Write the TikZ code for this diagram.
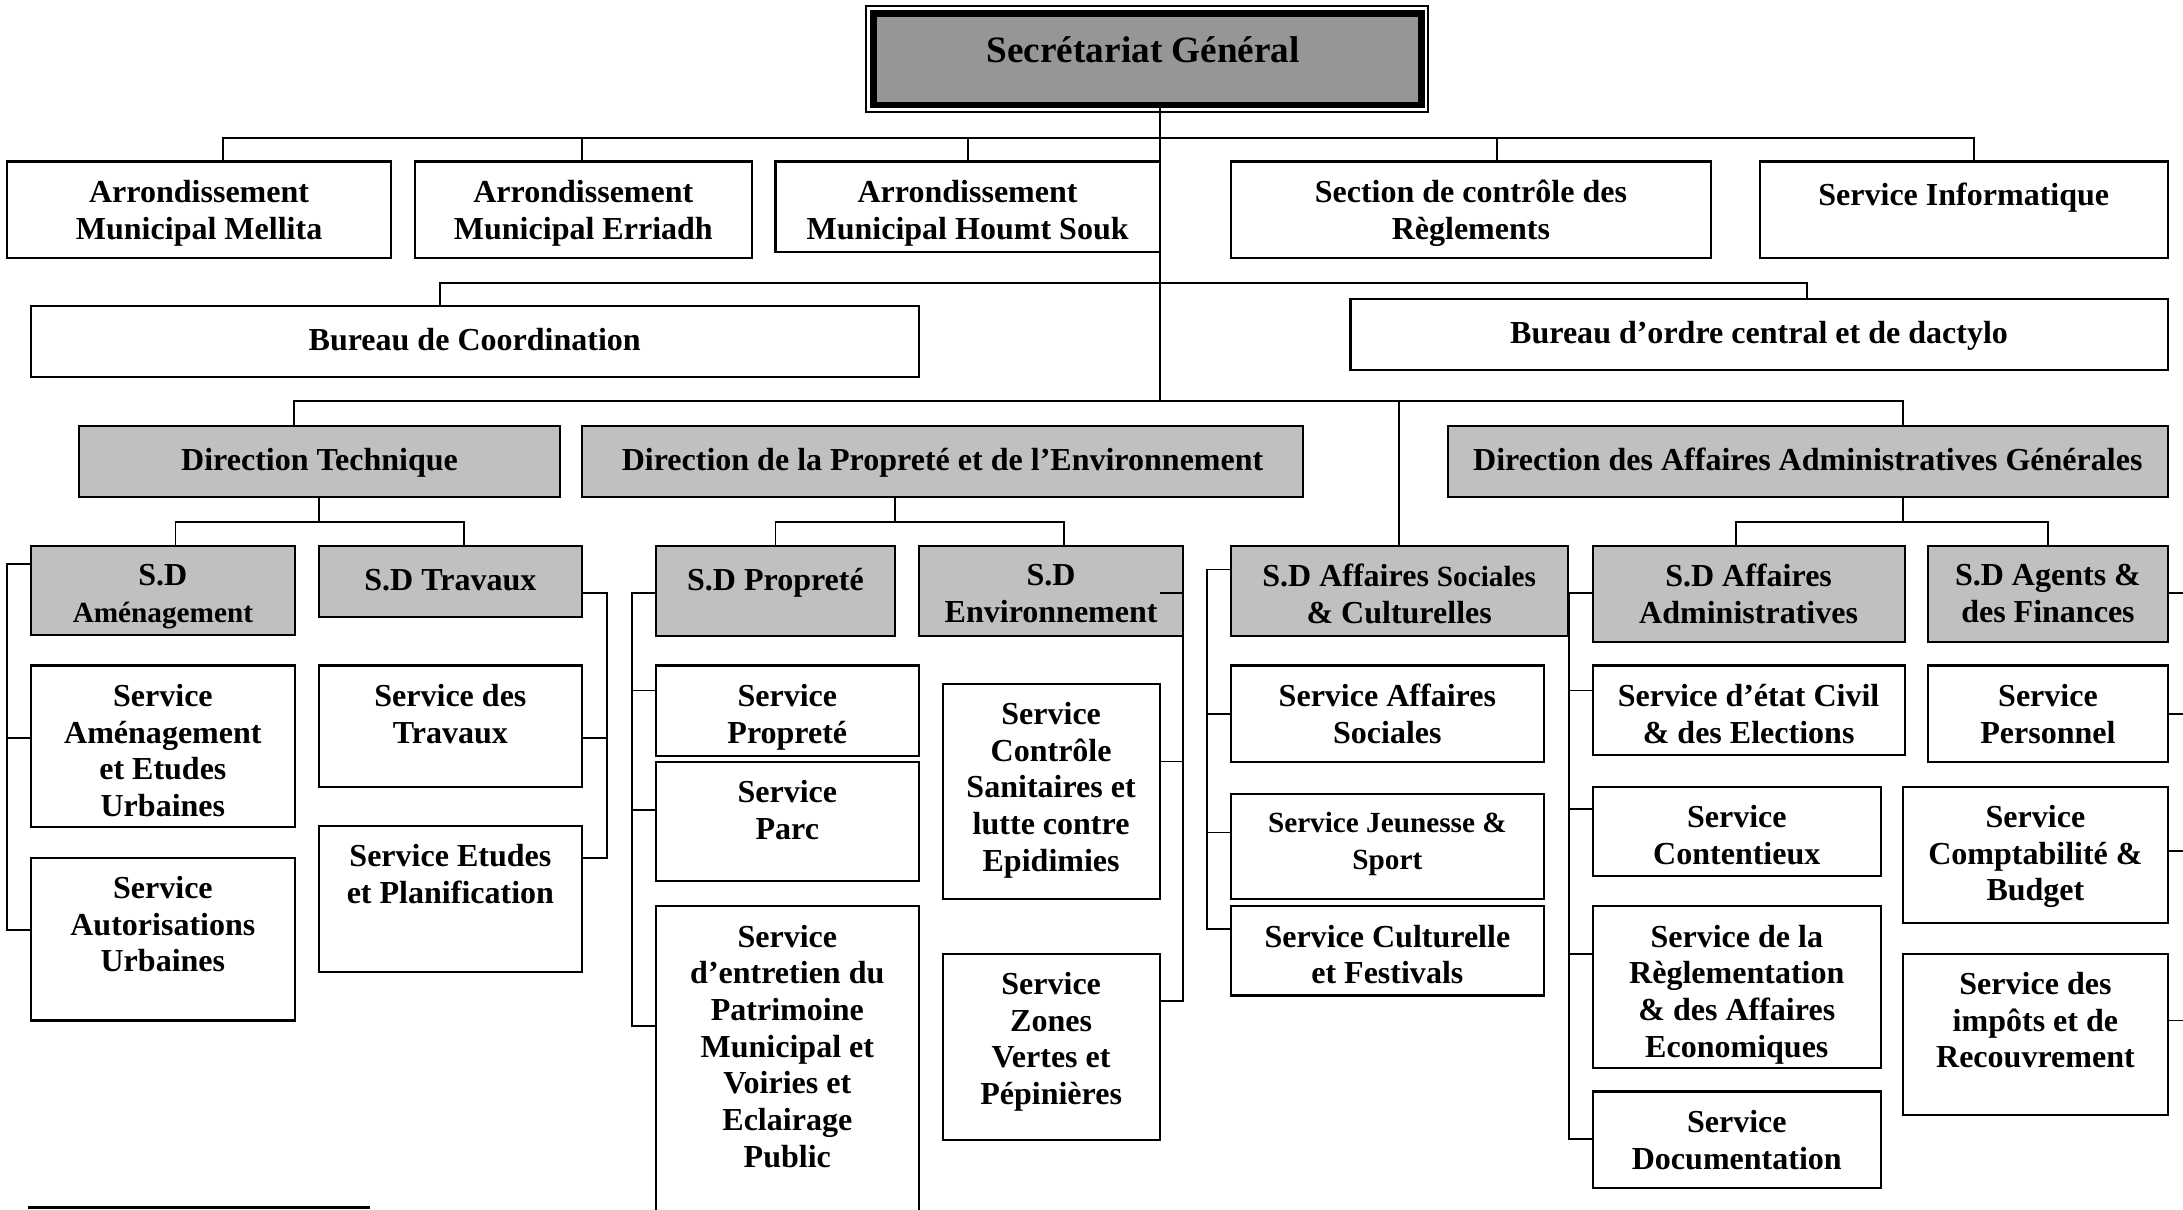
\documentclass[tikz,border=0pt]{standalone}
\usepackage{fontspec}
\setmainfont{Liberation Serif}
\usetikzlibrary{fit,calc}
\definecolor{sdgray}{HTML}{C0C0C0}
\definecolor{sggray}{HTML}{969696}
\tikzset{
  box/.style={draw, line width=0.75pt, fill=white, inner sep=0pt, outer sep=0pt},
  gbox/.style={box, fill=sdgray},
  txt/.style={inner sep=0pt, align=center, anchor=north, font=\fontsize{11.5}{13.17}\selectfont\bfseries, execute at begin node=\strut},
  con/.style={line width=0.65pt},
}
\newcommand\sm{\fontsize{10.5}{13.17}\selectfont}
\newcommand\ob[7]{%
  \node[#2, fit={(#3,#4) (#5,#6)}] (#1) {};
  \node[txt] (#1-t) at ($(#1.north)+(0,13)$) {#7};
}
\begin{document}
\begin{tikzpicture}[x=0.5pt,y=-0.5pt]
\useasboundingbox (0,0) rectangle (1568,869);
\clip (0,0) rectangle (1568,869);
\fill[white] (0,0) rectangle (1568,869);

% Secretariat General
\node[fit={(622,4.3) (1025.7,80.4)}, draw, line width=0.6pt, inner sep=0pt] (sgo) {};
\node[fit={(627.4,9.7) (1021,75.4)}, draw, line width=2.5pt, fill=sggray, inner sep=0pt] (sg) {};
\node[txt, font=\fontsize{13.37}{15.4}\selectfont\bfseries] (sg-t) at ($(sg.north)+(-3,15.8)$) {Secrétariat Général};

% row 1
\ob{m1}{box}{5}{116}{281}{185}{Arrondissement\\Municipal Mellita}
\ob{m2}{box}{298}{116}{540}{185}{Arrondissement\\Municipal Erriadh}
\ob{m3}{box}{557}{116}{833}{181}{Arrondissement\\Municipal Houmt Souk}
\ob{sec}{box}{884}{116}{1229}{185}{Section de contrôle des\\Règlements}
\ob{inf}{box}{1264}{116}{1557}{185}{Service Informatique}
% row 2
\ob{bc}{box}{22}{220}{660}{271}{Bureau de Coordination}
\ob{bo}{box}{970}{215}{1557}{266}{Bureau d’ordre central et de dactylo}
% directions
\ob{dt}{gbox}{57}{306}{402}{357}{Direction Technique}
\ob{dp}{gbox}{418}{306}{936}{357}{Direction de la Propreté et de l’Environnement}
\ob{da}{gbox}{1040}{306}{1557}{357}{Direction des Affaires Administratives Générales}
% sous-directions
\ob{sda}{gbox}{22}{392}{212}{456}{S.D\\{\sm Aménagement}}
\ob{sdt}{gbox}{229}{392}{418}{443}{S.D Travaux}
\ob{sdp}{gbox}{471}{392}{643}{457}{S.D Propreté}
\ob{sde}{gbox}{660}{392}{850}{457}{S.D\\Environnement}
\ob{sds}{gbox}{884}{392}{1126}{457}{S.D Affaires {\sm Sociales}\\\& Culturelles}
\ob{sdaa}{gbox}{1144}{392}{1368}{461}{S.D Affaires\\Administratives}
\ob{sdf}{gbox}{1385}{392}{1557}{461}{S.D Agents \&\\des Finances}
% services
\ob{s1}{box}{22}{478}{212}{594}{Service\\Aménagement\\et Etudes\\Urbaines}
\ob{s2}{box}{22}{616}{212}{733}{Service\\Autorisations\\Urbaines}
\ob{s3}{box}{229}{478}{418}{565}{Service des\\Travaux}
\ob{s4}{box}{229}{593}{418}{698}{Service Etudes\\et Planification}
\ob{s5}{box}{471}{478}{660}{543}{Service\\Propreté}
\ob{s6}{box}{471}{547}{660}{633}{Service\\Parc}
\ob{s7}{box}{471}{651}{660}{900}{Service\\d’entretien du\\Patrimoine\\Municipal et\\Voiries et\\Eclairage\\Public}
\ob{s8}{box}{677}{491}{833}{646}{Service\\Contrôle\\Sanitaires et\\lutte contre\\Epidimies}
\ob{s9}{box}{677}{685}{833}{819}{Service\\Zones\\Vertes et\\Pépinières}
\ob{s10}{box}{884}{478}{1109}{547}{Service Affaires\\Sociales}
\ob{s11}{box}{884}{570}{1109}{646}{\sm Service Jeunesse \&\\\sm Sport}
\ob{s12}{box}{884}{651}{1109}{715}{Service Culturelle\\et Festivals}
\ob{s13}{box}{1144}{478}{1368}{542}{Service d’état Civil\\\& des Elections}
\ob{s14}{box}{1144}{565}{1351}{629}{Service\\Contentieux}
\ob{s15}{box}{1144}{651}{1351}{767}{Service de la\\Règlementation\\\& des Affaires\\Economiques}
\ob{s16}{box}{1144}{784}{1351}{853}{Service\\Documentation}
\ob{s17}{box}{1385}{478}{1557}{547}{Service\\Personnel}
\ob{s18}{box}{1367}{565}{1557}{663}{Service\\Comptabilité \&\\Budget}
\ob{s19}{box}{1367}{685}{1557}{801}{Service des\\impôts et de\\Recouvrement}

% trunk
\draw[con] (833,288 |- sg.south) -- (833,288);
% bus 1
\draw[con] (160,99 |- m1.north) -- (160,99) -- (1418,99) -- (1418,99 |- inf.north);
\draw[con] (418,99) -- (418,99 |- m2.north);
\draw[con] (695,99) -- (695,99 |- m3.north);
\draw[con] (1075,99) -- (1075,99 |- sec.north);
% bus 2
\draw[con] (316,203 |- bc.north) -- (316,203) -- (1298,203) -- (1298,203 |- bo.north);
% bus 3
\draw[con] (211,288 |- dt.north) -- (211,288) -- (1367,288) -- (1367,288 |- da.north);
\draw[con] (1005,288) -- (1005,288 |- sds.north);
% direction technique
\draw[con] (229,375 |- dt.south) -- (229,375);
\draw[con] (126,375 |- sda.north) -- (126,375) -- (333,375) -- (333,375 |- sdt.north);
% direction proprete
\draw[con] (643,375 |- dp.south) -- (643,375);
\draw[con] (557,375 |- sdp.north) -- (557,375) -- (764,375) -- (764,375 |- sde.north);
% direction affaires admin
\draw[con] (1367,375 |- da.south) -- (1367,375);
\draw[con] (1247,375 |- sdaa.north) -- (1247,375) -- (1471,375) -- (1471,375 |- sdf.north);

% brackets
\draw[con] (5,405 -| sda.west) -- (5,405) -- (5,668) -- (5,668 -| s2.west);
\draw[con] (5,530) -- (5,530 -| s1.west);

\draw[con] (436,426 -| sdt.east) -- (436,426) -- (436,616) -- (436,616 -| s4.east);
\draw[con] (436,530) -- (436,530 -| s3.east);

\draw[con] (454,426 -| sdp.west) -- (454,426) -- (454,737) -- (454,737 -| s7.west);
\draw[con] (454,496) -- (454,496 -| s5.west);
\draw[con] (454,582) -- (454,582 -| s6.west);

\draw[con] (833,426) -- (850,426 -| sde.east) -- (850,719) -- (850,719 -| s9.east);
\draw[con] (850,547) -- (850,547 -| s8.east);

\draw[con] (867,409 -| sds.west) -- (867,409) -- (867,667) -- (867,667 -| s12.west);
\draw[con] (867,513) -- (867,513 -| s10.west);
\draw[con] (867,598) -- (867,598 -| s11.west);

\draw[con] (1127,426 -| sdaa.west) -- (1127,426) -- (1127,818) -- (1127,818 -| s16.west);
\draw[con] (1127,496) -- (1127,496 -| s13.west);
\draw[con] (1127,581) -- (1127,581 -| s14.west);
\draw[con] (1127,685) -- (1127,685 -| s15.west);

\draw[con] (1572,426 -| sdf.east) -- (1572,426) -- (1572,733) -- (1572,733 -| s19.east);
\draw[con] (1572,513) -- (1572,513 -| s17.east);
\draw[con] (1572,611) -- (1572,611 -| s18.east);

% footnote rule
\draw[line width=1.2pt] (20,867.5) -- (266,867.5);
\end{tikzpicture}
\end{document}
